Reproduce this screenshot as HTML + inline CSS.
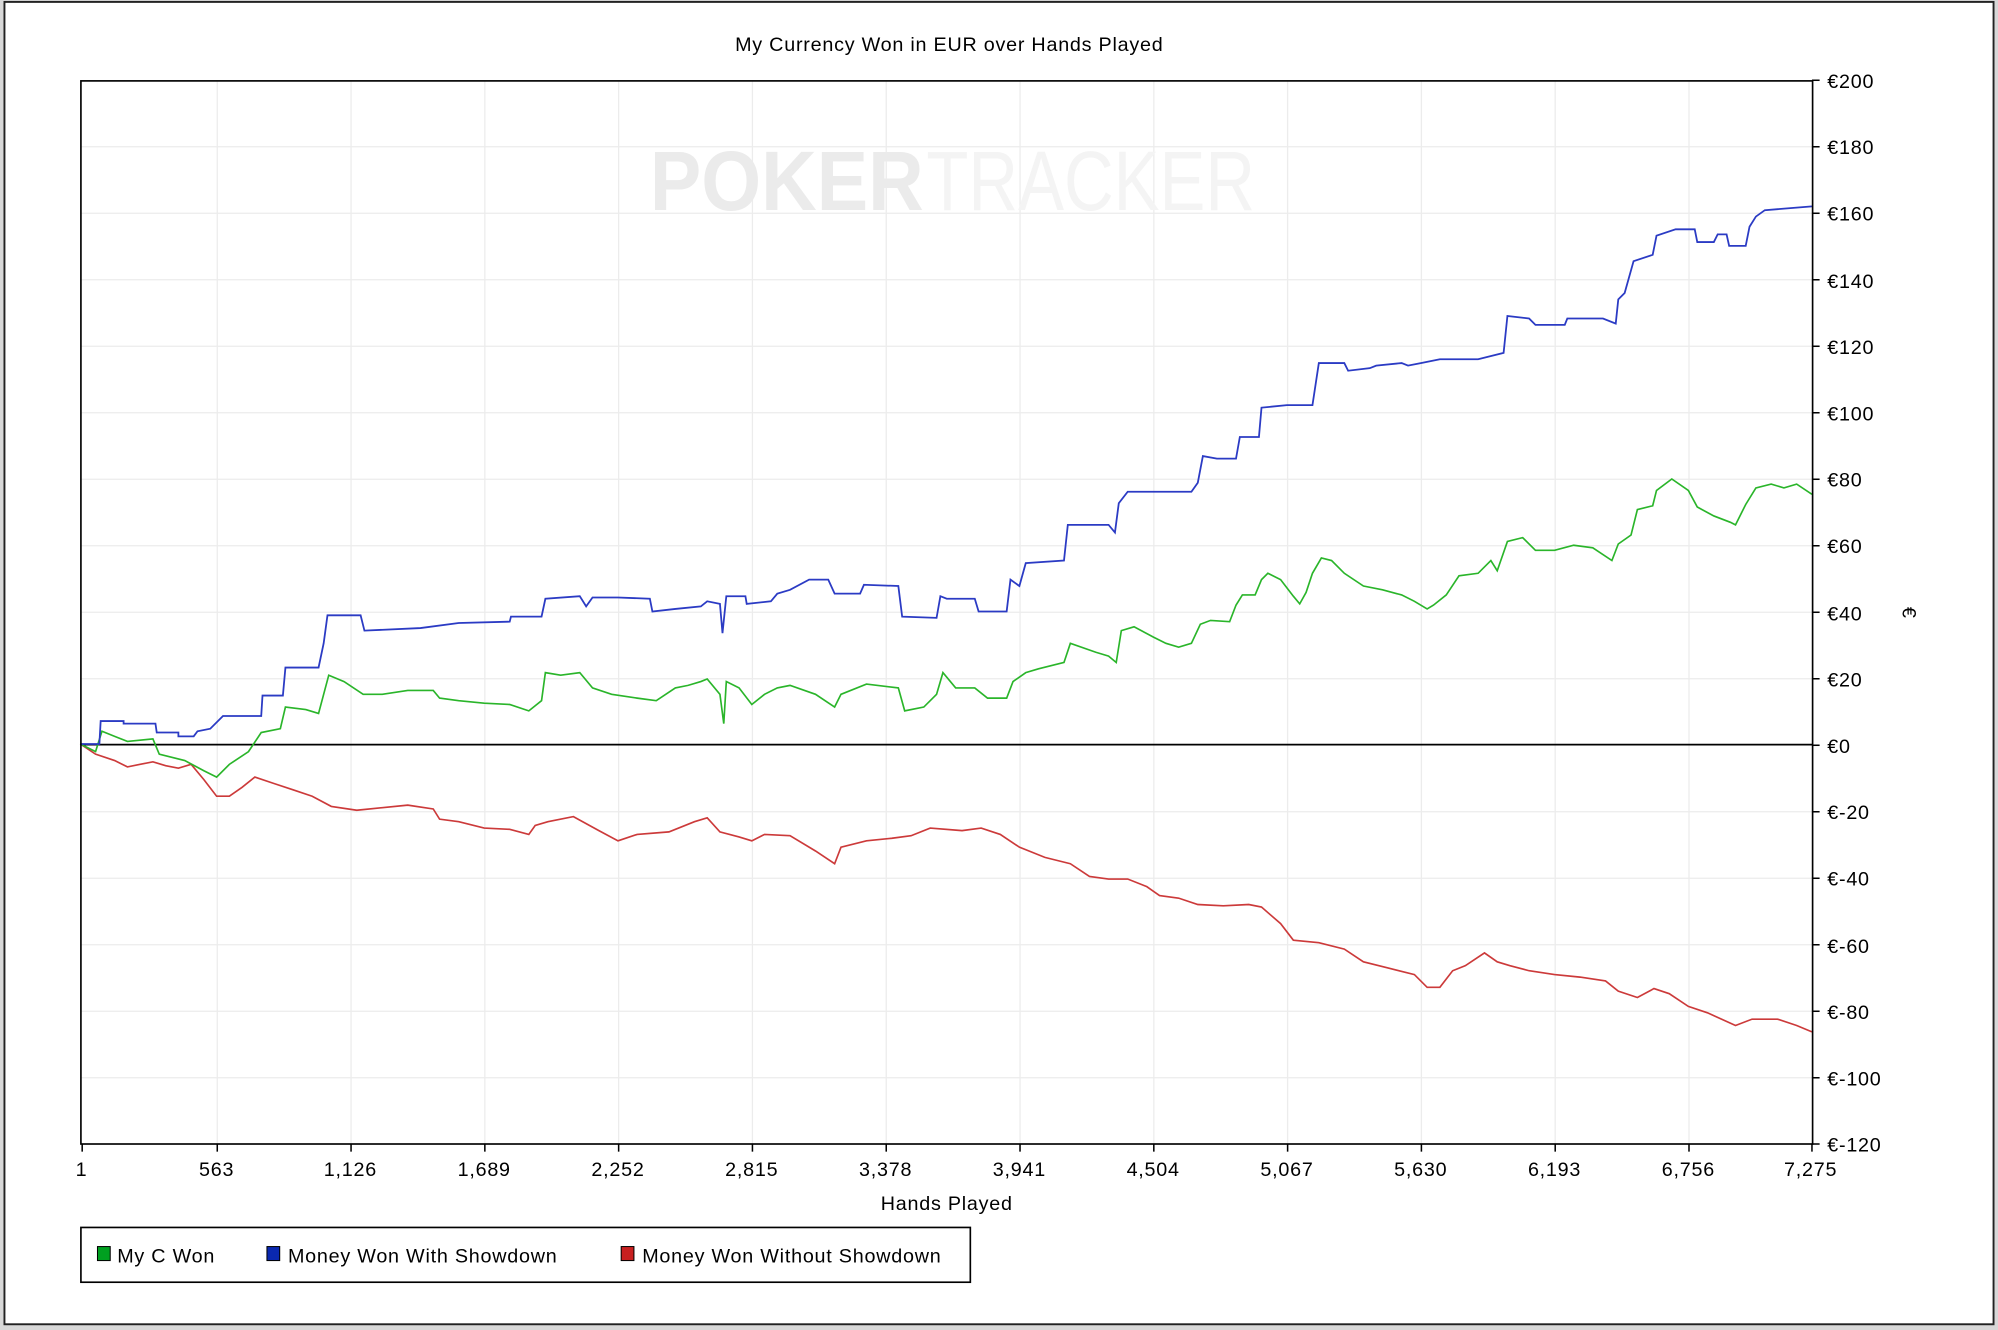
<!DOCTYPE html>
<html><head><meta charset="utf-8"><style>
html,body{margin:0;padding:0;background:#fff;}
svg{display:block;}
text{font-family:"Liberation Sans",sans-serif;fill:#000;}
.t{font-size:15.5px;letter-spacing:0.6px;}
</style></head><body>
<svg width="1998" height="1330" viewBox="0 0 1568 1044" preserveAspectRatio="none" xmlns="http://www.w3.org/2000/svg">
<rect x="0" y="0" width="1568" height="1044" fill="#d8d8d8"/>
<rect x="3.5" y="1.5" width="1561" height="1038" fill="#fff" stroke="#222" stroke-width="1.5"/>
<text class="t" x="745" y="40" text-anchor="middle">My Currency Won in EUR over Hands Played</text>
<g stroke="#ececec" stroke-width="1">
<line x1="63.5" y1="115.2" x2="1422.5" y2="115.2"/><line x1="63.5" y1="167.4" x2="1422.5" y2="167.4"/>
<line x1="63.5" y1="219.6" x2="1422.5" y2="219.6"/><line x1="63.5" y1="271.8" x2="1422.5" y2="271.8"/>
<line x1="63.5" y1="324" x2="1422.5" y2="324"/><line x1="63.5" y1="376.2" x2="1422.5" y2="376.2"/>
<line x1="63.5" y1="428.4" x2="1422.5" y2="428.4"/><line x1="63.5" y1="480.6" x2="1422.5" y2="480.6"/>
<line x1="63.5" y1="532.8" x2="1422.5" y2="532.8"/><line x1="63.5" y1="637.2" x2="1422.5" y2="637.2"/>
<line x1="63.5" y1="689.4" x2="1422.5" y2="689.4"/><line x1="63.5" y1="741.6" x2="1422.5" y2="741.6"/>
<line x1="63.5" y1="793.8" x2="1422.5" y2="793.8"/><line x1="63.5" y1="846" x2="1422.5" y2="846"/>
<line x1="170.5" y1="63" x2="170.5" y2="898"/><line x1="275.5" y1="63" x2="275.5" y2="898"/>
<line x1="380.5" y1="63" x2="380.5" y2="898"/><line x1="485.5" y1="63" x2="485.5" y2="898"/>
<line x1="590.5" y1="63" x2="590.5" y2="898"/><line x1="695.5" y1="63" x2="695.5" y2="898"/>
<line x1="800.5" y1="63" x2="800.5" y2="898"/><line x1="905.5" y1="63" x2="905.5" y2="898"/>
<line x1="1010.5" y1="63" x2="1010.5" y2="898"/><line x1="1115.5" y1="63" x2="1115.5" y2="898"/>
<line x1="1220.5" y1="63" x2="1220.5" y2="898"/><line x1="1325.5" y1="63" x2="1325.5" y2="898"/>
</g>
<text x="510" y="165" font-size="66" font-weight="bold" style="fill:#ebebeb" textLength="215" lengthAdjust="spacingAndGlyphs">POKER</text>
<text x="727" y="165" font-size="66" style="fill:#f4f4f4" textLength="258" lengthAdjust="spacingAndGlyphs">TRACKER</text>
<line x1="63.5" y1="584.5" x2="1422.5" y2="584.5" stroke="#000" stroke-width="1.3"/>
<polyline fill="none" stroke="#cc3a3a" stroke-width="1.3" points="63,584 75,592 90,597 100,602 110,600 120,598 130,601 140,603 150,600 160,612 170,625 180,625 190,618 200,610 215,615 230,620 245,625 260,633 280,636 300,634 320,632 340,635 345,643 360,645 380,650 400,651 415,655 420,648 430,645 450,641 470,652 485,660 500,655 525,653 545,645 555,642 565,653 580,657 590,660 600,655 620,656 640,668 655,678 660,665 680,660 700,658 715,656 730,650 755,652 770,650 785,655 800,665 820,673 840,678 855,688 870,690 885,690 900,696 910,703 925,705 940,710 960,711 980,710 990,712 1005,725 1015,738 1035,740 1055,745 1070,755 1090,760 1110,765 1120,775 1130,775 1140,762 1150,758 1165,748 1175,755 1185,758 1200,762 1220,765 1240,767 1260,770 1270,778 1285,783 1298,776 1310,780 1325,790 1340,795 1362,805 1375,800 1395,800 1410,805 1422,810"/>
<polyline fill="none" stroke="#2ab52a" stroke-width="1.3" points="63,584 75,590 80,574 90,578 100,582 120,580 125,592 145,597 160,605 170,610 180,600 195,590 205,575 220,572 224,555 240,557 250,560 254,545 258,530 270,535 285,545 300,545 320,542 340,542 345,548 360,550 380,552 400,553 415,558 425,550 428,528 440,530 455,528 465,540 480,545 500,548 515,550 530,540 540,538 550,535 555,533 565,545 568,568 570,535 580,540 590,553 600,545 610,540 620,538 640,545 655,555 660,545 680,537 705,540 710,558 725,555 735,545 740,528 750,540 765,540 775,548 790,548 795,535 805,528 815,525 835,520 840,505 860,512 870,515 876,520 880,495 890,492 905,500 915,505 925,508 935,505 942,490 950,487 965,488 970,475 975,467 985,467 990,455 995,450 1005,455 1015,468 1020,474 1025,465 1030,450 1037,438 1045,440 1055,450 1070,460 1085,463 1100,467 1110,472 1120,478 1125,475 1135,467 1145,452 1160,450 1170,440 1175,448 1183,425 1195,422 1205,432 1220,432 1235,428 1250,430 1265,440 1270,427 1280,420 1285,400 1297,397 1300,385 1312,376 1325,385 1332,398 1345,405 1358,410 1362,412 1370,396 1378,383 1390,380 1400,383 1410,380 1422,388"/>
<polyline fill="none" stroke="#2b3bc4" stroke-width="1.4" points="63,584 78,584 79,566 97,566 97,568 122,568 123,575 140,575 140,578 152,578 155,574 165,572 175,562 205,562 206,546 222,546 224,524 250,524 254,505 257,483 283,483 286,495 330,493 360,489 400,488 401,484 425,484 428,470 455,468 460,476 465,469 485,469 510,470 512,480 530,478 550,476 555,472 565,474 567,497 570,468 585,468 586,474 605,472 610,466 620,463 635,455 650,455 655,466 675,466 678,459 705,460 708,484 735,485 738,468 743,470 765,470 768,480 790,480 793,455 800,460 805,442 835,440 838,412 870,412 875,418 878,395 885,386 935,386 940,379 944,358 955,360 970,360 973,343 988,343 990,320 1010,318 1030,318 1035,285 1055,285 1058,291 1075,289 1080,287 1100,285 1105,287 1115,285 1130,282 1160,282 1180,277 1183,248 1200,250 1205,255 1228,255 1230,250 1258,250 1268,254 1270,235 1275,230 1282,205 1297,200 1300,185 1315,180 1330,180 1332,190 1345,190 1348,184 1355,184 1357,193 1370,193 1373,178 1378,170 1385,165 1422,162"/>
<rect x="63.5" y="63.5" width="1359" height="834.5" fill="none" stroke="#000" stroke-width="1.3"/>
<g stroke="#000" stroke-width="1.2">
<line x1="1422" y1="63" x2="1428" y2="63"/><line x1="1422" y1="115.2" x2="1428" y2="115.2"/><line x1="1422" y1="167.4" x2="1428" y2="167.4"/><line x1="1422" y1="219.6" x2="1428" y2="219.6"/><line x1="1422" y1="271.8" x2="1428" y2="271.8"/><line x1="1422" y1="324" x2="1428" y2="324"/><line x1="1422" y1="376.2" x2="1428" y2="376.2"/><line x1="1422" y1="428.4" x2="1428" y2="428.4"/><line x1="1422" y1="480.6" x2="1428" y2="480.6"/><line x1="1422" y1="532.8" x2="1428" y2="532.8"/><line x1="1422" y1="585" x2="1428" y2="585"/><line x1="1422" y1="637.2" x2="1428" y2="637.2"/><line x1="1422" y1="689.4" x2="1428" y2="689.4"/><line x1="1422" y1="741.6" x2="1428" y2="741.6"/><line x1="1422" y1="793.8" x2="1428" y2="793.8"/><line x1="1422" y1="846" x2="1428" y2="846"/><line x1="1422" y1="898" x2="1428" y2="898"/>
<line x1="64.5" y1="898" x2="64.5" y2="904"/><line x1="170.5" y1="898" x2="170.5" y2="904"/><line x1="275.5" y1="898" x2="275.5" y2="904"/><line x1="380.5" y1="898" x2="380.5" y2="904"/><line x1="485.5" y1="898" x2="485.5" y2="904"/><line x1="590.5" y1="898" x2="590.5" y2="904"/><line x1="695.5" y1="898" x2="695.5" y2="904"/><line x1="800.5" y1="898" x2="800.5" y2="904"/><line x1="905.5" y1="898" x2="905.5" y2="904"/><line x1="1010.5" y1="898" x2="1010.5" y2="904"/><line x1="1115.5" y1="898" x2="1115.5" y2="904"/><line x1="1220.5" y1="898" x2="1220.5" y2="904"/><line x1="1325.5" y1="898" x2="1325.5" y2="904"/><line x1="1422" y1="898" x2="1422" y2="904"/>
</g>
<g class="t">
<text x="1434" y="69">€200</text><text x="1434" y="121">€180</text><text x="1434" y="173">€160</text><text x="1434" y="226">€140</text><text x="1434" y="278">€120</text><text x="1434" y="330">€100</text><text x="1434" y="382">€80</text><text x="1434" y="434">€60</text><text x="1434" y="487">€40</text><text x="1434" y="539">€20</text><text x="1434" y="591">€0</text><text x="1434" y="643">€-20</text><text x="1434" y="695">€-40</text><text x="1434" y="748">€-60</text><text x="1434" y="800">€-80</text><text x="1434" y="852">€-100</text><text x="1434" y="904">€-120</text>
</g>
<g class="t" text-anchor="middle">
<text x="64" y="923">1</text><text x="170" y="923">563</text><text x="275" y="923">1,126</text><text x="380" y="923">1,689</text><text x="485" y="923">2,252</text><text x="590" y="923">2,815</text><text x="695" y="923">3,378</text><text x="800" y="923">3,941</text><text x="905" y="923">4,504</text><text x="1010" y="923">5,067</text><text x="1115" y="923">5,630</text><text x="1220" y="923">6,193</text><text x="1325" y="923">6,756</text><text x="1421" y="923">7,275</text>
<text x="743" y="950">Hands Played</text>
</g>
<text class="t" x="1493" y="481" transform="rotate(90 1493 481)" text-anchor="middle">€</text>
<rect x="63.5" y="963.5" width="698" height="43" fill="#fff" stroke="#000" stroke-width="1.3"/>
<rect x="76.5" y="978.5" width="10" height="11" fill="#00a020" stroke="#000" stroke-width="0.8"/>
<text class="t" x="92" y="991">My C Won</text>
<rect x="209.5" y="978.5" width="10" height="11" fill="#0a28b0" stroke="#000" stroke-width="0.8"/>
<text class="t" x="226" y="991">Money Won With Showdown</text>
<rect x="487.5" y="978.5" width="10" height="11" fill="#c82020" stroke="#000" stroke-width="0.8"/>
<text class="t" x="504" y="991">Money Won Without Showdown</text>
</svg>
</body></html>
